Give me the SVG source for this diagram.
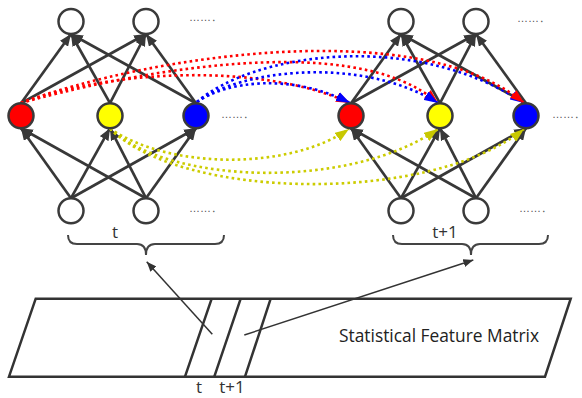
<svg xmlns="http://www.w3.org/2000/svg" width="582" height="398" viewBox="0 0 582 398">
<defs>
<style>
.nd{stroke:#3a3a3a;stroke-width:2.5}
.w{fill:#ffffff}.r{fill:#ff0000}.y{fill:#ffff00}.b{fill:#0000ff}
.e{stroke:#383838;stroke-width:2.7;fill:none;marker-end:url(#ah)}
.dr{stroke:#ff0000;stroke-width:2.6;stroke-dasharray:2.6 3.2;fill:none;marker-end:url(#ahr)}
.db{stroke:#0000ff;stroke-width:2.6;stroke-dasharray:2.6 3.2;fill:none;marker-end:url(#ahb)}
.dy{stroke:#cccc00;stroke-width:2.6;stroke-dasharray:2.6 3.2;fill:none;marker-end:url(#ahy)}
.dots{font-family:"Liberation Sans",Arial,sans-serif;font-size:11px;fill:#555}
.lbl{font-family:"Open Sans","Liberation Sans",sans-serif;font-size:17px;fill:#333}
.mx{stroke:#333;stroke-width:2.5;fill:none}
.ptr{stroke:#333;stroke-width:1.5;fill:none;marker-end:url(#ahs)}
.br{stroke:#444;stroke-width:2;fill:none}
</style>
<marker id="ah" viewBox="0 0 12 10" refX="12" refY="5" markerWidth="12" markerHeight="10" markerUnits="userSpaceOnUse" orient="auto"><path d="M0,0 L12,5 L0,10 z" fill="#383838"/></marker>
<marker id="ahr" viewBox="0 0 14 10" refX="14" refY="5" markerWidth="14" markerHeight="10" markerUnits="userSpaceOnUse" orient="auto"><path d="M0,0 L14,5 L0,10 z" fill="#ff0000"/></marker>
<marker id="ahb" viewBox="0 0 14 10" refX="14" refY="5" markerWidth="14" markerHeight="10" markerUnits="userSpaceOnUse" orient="auto"><path d="M0,0 L14,5 L0,10 z" fill="#0000ff"/></marker>
<marker id="ahy" viewBox="0 0 14 10" refX="14" refY="5" markerWidth="14" markerHeight="10" markerUnits="userSpaceOnUse" orient="auto"><path d="M0,0 L14,5 L0,10 z" fill="#c8c800"/></marker>
<marker id="ahs" viewBox="0 0 10 8" refX="10" refY="4" markerWidth="10" markerHeight="8" markerUnits="userSpaceOnUse" orient="auto"><path d="M0,0 L10,4 L0,8 z" fill="#333"/></marker>
</defs>
<rect width="582" height="398" fill="#ffffff"/>

<g id="connectors">
<!-- left network -->
<path class="e" d="M21,103.2 L71,34"/>
<path class="e" d="M21,103.2 L146,34"/>
<path class="e" d="M110,103.2 L71,34"/>
<path class="e" d="M110,103.2 L146,34"/>
<path class="e" d="M196,103.2 L71,34"/>
<path class="e" d="M196,103.2 L146,34"/>
<path class="e" d="M71,198.2 L21,128.2"/>
<path class="e" d="M71,198.2 L110,128.2"/>
<path class="e" d="M71,198.2 L196,128.2"/>
<path class="e" d="M146,198.2 L21,128.2"/>
<path class="e" d="M146,198.2 L110,128.2"/>
<path class="e" d="M146,198.2 L196,128.2"/>
<!-- right network -->
<path class="e" d="M351,103.2 L401,34"/>
<path class="e" d="M351,103.2 L476,34"/>
<path class="e" d="M440,103.2 L401,34"/>
<path class="e" d="M440,103.2 L476,34"/>
<path class="e" d="M526,103.2 L401,34"/>
<path class="e" d="M526,103.2 L476,34"/>
<path class="e" d="M401,198.2 L351,128.2"/>
<path class="e" d="M401,198.2 L440,128.2"/>
<path class="e" d="M401,198.2 L526,128.2"/>
<path class="e" d="M476,198.2 L351,128.2"/>
<path class="e" d="M476,198.2 L440,128.2"/>
<path class="e" d="M476,198.2 L526,128.2"/>
<!-- temporal dotted links -->
<path class="dy" d="M110,128.5 C170,170 290,170 349,129"/>
<path class="dy" d="M110,128.5 C170,185 350,190 438,129"/>
<path class="dy" d="M110,128.5 C180,200 430,205 524,129"/>
<path class="dr" d="M21,103 C110,70 260,62 350,103"/>
<path class="dr" d="M21,103 C110,78 350,25 438,103"/>
<path class="db" d="M197,102 C225,82 290,72 350,103"/>
<path class="db" d="M197,102 C240,70 360,55 438,103"/>
<path class="db" d="M197,102 C250,55 410,28 524,103"/>
<path class="dr" d="M21,103 C150,55 420,15 524,103"/>
<!-- matrix to layers -->
<path class="ptr" d="M212.3,334.3 L146.7,261.7"/>
<path class="ptr" d="M244.3,335 L473.3,260"/>
</g>

<g id="left-top-1"><circle class="nd w" cx="71" cy="21.5" r="12.5"/></g>
<g id="left-top-2"><circle class="nd w" cx="146" cy="21.5" r="12.5"/></g>
<g id="left-red"><circle class="nd r" cx="21" cy="115.7" r="12.5"/></g>
<g id="left-yellow"><circle class="nd y" cx="110" cy="115.7" r="12.5"/></g>
<g id="left-blue"><circle class="nd b" cx="196" cy="115.7" r="12.5"/></g>
<g id="left-bottom-1"><circle class="nd w" cx="71" cy="210.7" r="12.5"/></g>
<g id="left-bottom-2"><circle class="nd w" cx="146" cy="210.7" r="12.5"/></g>

<g id="right-top-1"><circle class="nd w" cx="401" cy="21.5" r="12.5"/></g>
<g id="right-top-2"><circle class="nd w" cx="476" cy="21.5" r="12.5"/></g>
<g id="right-red"><circle class="nd r" cx="351" cy="115.7" r="12.5"/></g>
<g id="right-yellow"><circle class="nd y" cx="440" cy="115.7" r="12.5"/></g>
<g id="right-blue"><circle class="nd b" cx="526" cy="115.7" r="12.5"/></g>
<g id="right-bottom-1"><circle class="nd w" cx="401" cy="210.7" r="12.5"/></g>
<g id="right-bottom-2"><circle class="nd w" cx="476" cy="210.7" r="12.5"/></g>

<g id="ellipses">
<text class="dots" x="189" y="21">……․</text>
<text class="dots" x="221" y="118">……․</text>
<text class="dots" x="189" y="212">……․</text>
<text class="dots" x="517" y="22">……․</text>
<text class="dots" x="552" y="118">……․</text>
<text class="dots" x="519" y="212">……․</text>
</g>

<g id="brace-t">
<path class="br" d="M68,235 Q68,244 77,244 H137 Q146,244 146,255 Q146,244 155,244 H215 Q224,244 224,235"/>
<text class="lbl" x="115" y="238" text-anchor="middle">t</text>
</g>
<g id="brace-t1">
<path class="br" d="M393,235 Q393,244 402,244 H462 Q471,244 471,255 Q471,244 480,244 H539 Q548,244 548,235"/>
<text class="lbl" x="445" y="238" text-anchor="middle">t+1</text>
</g>

<g id="matrix">
<path class="mx" d="M35.7,298.7 L570.7,298.7 L545,376.7 L9,376.7 Z"/>
<path class="mx" d="M211.7,298.7 L185,376.7 M240.7,298.7 L214.3,376.7 M270.7,298.7 L245,376.7"/>
<text class="lbl" x="339" y="342" textLength="200" lengthAdjust="spacingAndGlyphs" style="font-size:18px;fill:#222">Statistical Feature Matrix</text>
<text class="lbl" x="199" y="393" text-anchor="middle">t</text>
<text class="lbl" x="232" y="393" text-anchor="middle">t+1</text>
</g>
</svg>
